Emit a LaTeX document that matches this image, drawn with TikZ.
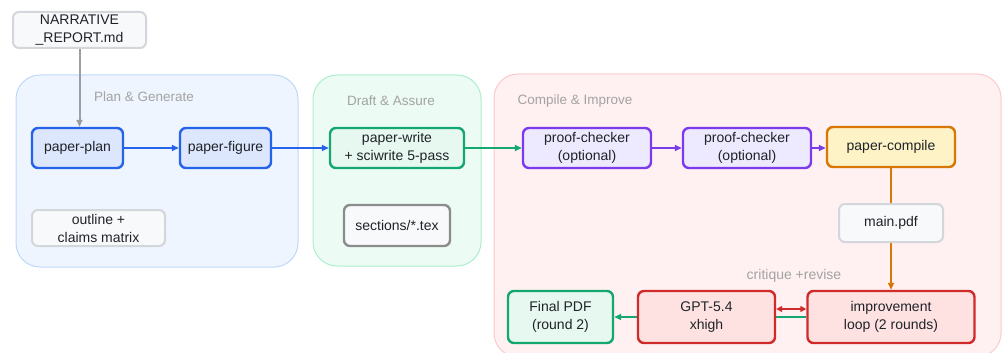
\documentclass[tikz,border=0pt]{standalone}
\usepackage{fontspec}
\setmainfont{Liberation Sans}
\usetikzlibrary{arrows.meta,calc}
\pgfdeclarelayer{groups}
\pgfdeclarelayer{edges}
\pgfsetlayers{groups,edges,main}
\definecolor{grpblueF}{HTML}{EEF5FE}\definecolor{grpblueD}{HTML}{BFD8FA}
\definecolor{grpgreenF}{HTML}{ECFCF4}\definecolor{grpgreenD}{HTML}{ADEFCD}
\definecolor{grpredF}{HTML}{FFF0F1}\definecolor{grpredD}{HTML}{FCCACA}
\definecolor{blueF}{HTML}{DCE6FC}\definecolor{blueD}{HTML}{2563EB}
\definecolor{greenF}{HTML}{E6F8EF}\definecolor{greenD}{HTML}{14A870}
\definecolor{purpF}{HTML}{EDE9FE}\definecolor{purpD}{HTML}{7C3AED}
\definecolor{orgF}{HTML}{FEF3C7}\definecolor{orgD}{HTML}{D97706}
\definecolor{redF}{HTML}{FEE2E2}\definecolor{redD}{HTML}{D02B2B}
\definecolor{grayF}{HTML}{F8F9FB}\definecolor{grayD}{HTML}{D3D6DB}
\definecolor{darkgrayD}{HTML}{8C8C8C}
\definecolor{lbl}{HTML}{A3A3A3}
\definecolor{txt}{HTML}{1F2328}
\definecolor{arrgray}{HTML}{9E9E9E}
\tikzset{
  x=1pt,y=-1pt,
  every node/.style={font=\fontsize{14}{18}\selectfont, text=txt},
  box/.style={draw, rounded corners=6pt, line width=2.4pt, align=center, inner sep=0pt},
  bluebox/.style={box, fill=blueF, draw=blueD},
  greenbox/.style={box, fill=greenF, draw=greenD},
  purpbox/.style={box, fill=purpF, draw=purpD},
  orgbox/.style={box, fill=orgF, draw=orgD},
  redbox/.style={box, fill=redF, draw=redD},
  graybox/.style={box, fill=grayF, draw=grayD, line width=2pt},
  dgraybox/.style={box, fill=grayF, draw=darkgrayD, line width=2.4pt},
  grp/.style={rounded corners=24pt, line width=1pt},
  grplabel/.style={text=lbl, font=\fontsize{13.5}{16}\selectfont},
  conn/.style={line width=2pt, -{Triangle[length=7pt,width=6pt]}},
}
\begin{document}
\begin{tikzpicture}
\useasboundingbox (0,0) rectangle (1002,353);
% groups
\begin{pgfonlayer}{groups}
\begin{scope}
\clip (0,0) rectangle (1002,353);
\draw[grp, fill=grpblueF, draw=grpblueD] (16,75) rectangle (298,267);
\draw[grp, fill=grpgreenF, draw=grpgreenD] (313,75) rectangle (481,266);
\draw[grp, fill=grpredF, draw=grpredD] (494,74) rectangle (1001,357);
\end{scope}
\end{pgfonlayer}
\node[grplabel] (lplan) at (144,97) {Plan \& Generate};
\node[grplabel] (ldraft) at (391,101) {Draft \& Assure};
\node[grplabel, anchor=west] (lcomp) at (514,101) {Compile \& Improve};
% nodes
\node[graybox, minimum width=133pt, minimum height=36pt] (narr) at (79.5,30) {NARRATIVE\\\_REPORT.md};
\node[bluebox, minimum width=91pt, minimum height=40pt] (plan) at (77.5,148) {paper-plan};
\node[bluebox, minimum width=91pt, minimum height=40pt] (figure) at (225.5,148) {paper-figure};
\node[graybox, minimum width=133pt, minimum height=36pt] (outline) at (98.5,228) {outline +\\claims matrix};
\node[greenbox, minimum width=134pt, minimum height=40pt] (write) at (397,148) {paper-write\\+ sciwrite 5-pass};
\node[dgraybox, minimum width=106pt, minimum height=41pt] (sections) at (397,225.5) {sections/*.tex};
\node[purpbox, minimum width=128pt, minimum height=40pt] (pc1) at (587,148) {proof-checker\\(optional)};
\node[purpbox, minimum width=128pt, minimum height=40pt] (pc2) at (747,148) {proof-checker\\(optional)};
\node[orgbox, minimum width=128pt, minimum height=40pt] (compile) at (891,147) {paper-compile};
\node[greenbox, minimum width=105pt, minimum height=52pt] (final) at (560.5,317) {Final PDF\\(round 2)};
\node[redbox, minimum width=137pt, minimum height=52pt] (gpt) at (706.5,317) {GPT-5.4\\xhigh};
\node[redbox, minimum width=167pt, minimum height=52pt] (improve) at (891,317) {improvement\\loop (2 rounds)};
\node[text=lbl] (crit) at (794,276) {critique +revise};
\node[graybox, minimum width=104pt, minimum height=38pt] (mainpdf) at (891,223) {main.pdf};
% connectors
\begin{pgfonlayer}{edges}
\draw[conn, arrgray] (narr.south) -- (narr.south |- plan.north);
\draw[conn, blueD] (plan) -- (figure);
\draw[conn, blueD] (figure) -- (write);
\draw[conn, greenD] (write) -- (pc1);
\draw[conn, purpD] (pc1) -- (pc2);
\draw[conn, purpD] (pc2) -- (pc2 -| compile.west);
\draw[conn, orgD] (compile.south) -- (compile.south |- improve.north);
\draw[conn, greenD] (improve.west) -- (final.east);
\draw[line width=2pt, redD, {Triangle[length=6pt,width=6pt]}-{Triangle[length=6pt,width=6pt]}] ([yshift=8pt]gpt.east) -- ([yshift=8pt]improve.west);
\end{pgfonlayer}
\end{tikzpicture}
\end{document}
